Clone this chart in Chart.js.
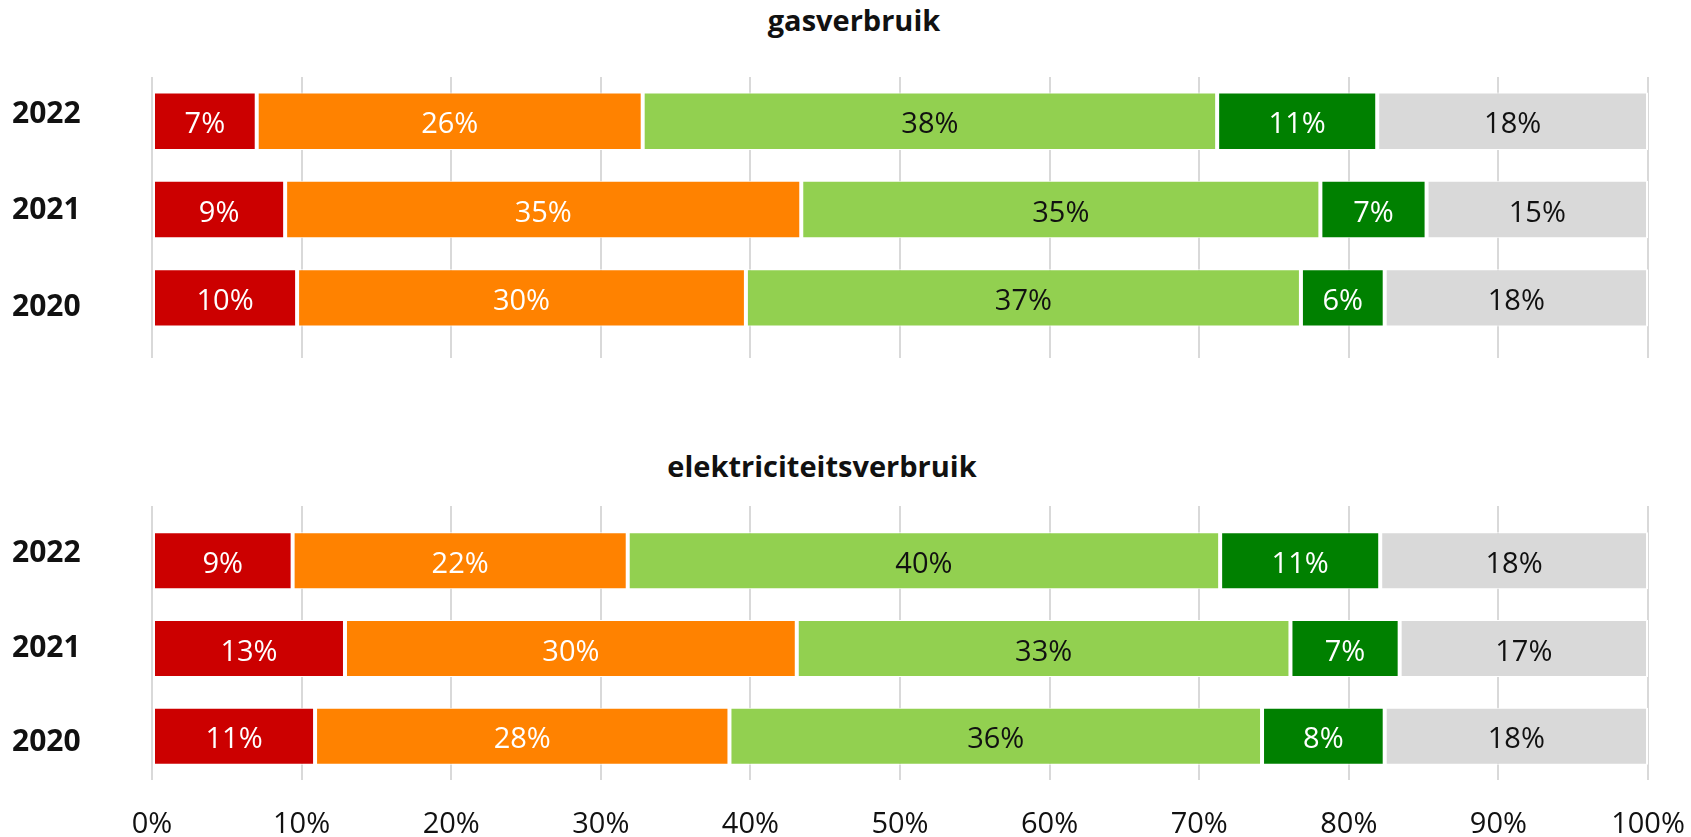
<!DOCTYPE html>
<html>
<head>
<meta charset="utf-8">
<script src="https://cdn.jsdelivr.net/npm/chart.js@4.4.0/dist/chart.umd.min.js"></script>
<style>
  html, body { margin: 0; padding: 0; background: #fff; }
  #wrap { position: relative; width: 1691px; height: 837px; overflow: hidden; }
  .box { position: absolute; left: 0; width: 1691px; }
  .titel {
    position: absolute;
    transform: translateX(-50%);
    font: bold 29px "Open Sans", sans-serif;
    line-height: 29px;
    color: #111;
    white-space: nowrap;
  }
</style>
</head>
<body>
<div id="wrap">
  <div class="titel" style="left:854px; top:5px;">gasverbruik</div>
  <div class="box" style="top:0; height:360px;"><canvas id="gas"></canvas></div>
  <div class="titel" style="left:822px; top:451px;">elektriciteitsverbruik</div>
  <div class="box" style="top:400px; height:437px;"><canvas id="elek"></canvas></div>
</div>
<script>
const jaren = ['2022', '2021', '2020'];

// gasverbruik, aandeel per klasse (%)
const gasRood = [7.0, 8.9, 9.7];
const gasOranje = [25.8, 34.5, 30.0];
const gasLichtgroen = [38.4, 34.7, 37.1];
const gasDonkergroen = [10.7, 7.1, 5.6];
const gasGrijs = [18.1, 14.8, 17.6];

// elektriciteitsverbruik, aandeel per klasse (%)
const elekRood = [9.4, 12.9, 10.9];
const elekOranje = [22.4, 30.2, 27.7];
const elekLichtgroen = [39.6, 33.0, 35.6];
const elekDonkergroen = [10.7, 7.3, 8.2];
const elekGrijs = [17.9, 16.6, 17.6];

const reeksen = ['rood', 'oranje', 'lichtgroen', 'donkergroen', 'grijs'];
const kleuren = ['#cc0000', '#ff8200', '#92d050', '#008000', '#d9d9d9'];
const tekstKleuren = ['#ffffff', '#ffffff', '#111111', '#ffffff', '#111111'];

const FONT = '"Open Sans", sans-serif';
const GRID = '#d9d9d9';

// percentages midden in elk segment
const segmentLabels = {
    id: 'segmentLabels',
    afterDatasetsDraw(chart) {
        const ctx = chart.ctx;
        ctx.save();
        ctx.font = '29px ' + FONT;
        ctx.textAlign = 'center';
        ctx.textBaseline = 'middle';
        chart.data.datasets.forEach((ds, i) => {
            chart.getDatasetMeta(i).data.forEach((bar, j) => {
                const p = bar.getCenterPoint();
                ctx.fillStyle = tekstKleuren[i];
                ctx.fillText(Math.round(ds.data[j]) + '%', p.x, p.y + 4);
            });
        });
        ctx.restore();
    }
};

function maakDatasets(series) {
    return series.map((data, i) => ({
        label: reeksen[i],
        data: data,
        backgroundColor: kleuren[i],
        borderColor: '#ffffff',
        borderWidth: { top: 1, bottom: 1, left: 2, right: 2 },
        borderSkipped: false,
        categoryPercentage: 1,
        barPercentage: 0.65
    }));
}

// jaartallen staan iets verder uit elkaar dan de balken,
// daarom een aparte lineaire as voor de labels (2 = bovenste jaar)
function jaarAs(min, max) {
    return {
        type: 'linear',
        axis: 'y',
        position: 'left',
        offset: false,
        bounds: 'data',
        min: min,
        max: max,
        grid: { display: false, offset: false },
        border: { display: false },
        ticks: {
            color: '#111',
            font: { family: FONT, size: 30, weight: 'bold' },
            crossAlign: 'far',
            padding: 0,
            callback: v => jaren[jaren.length - 1 - v]
        },
        afterBuildTicks: s => {
            s.ticks = jaren.map((j, i) => ({ value: i }));
            s.min = min;
            s.max = max;
        },
        afterFit: s => { s.width = 140; }
    };
}

// vaste hoogte, geen extra ruimte voor overhangende labels
function vastAs(h) {
    return s => {
        s.height = h;
        s.paddingLeft = 0;
        s.paddingRight = 0;
    };
}

function renderGas() {
    const ctx = document.getElementById('gas');
    ctx.chart = new Chart(ctx, {
        type: 'bar',
        data: {
            labels: jaren,
            datasets: maakDatasets([gasRood, gasOranje, gasLichtgroen, gasDonkergroen, gasGrijs])
        },
        options: {
            indexAxis: 'y',
            responsive: true,
            maintainAspectRatio: false,
            animation: false,
            layout: { padding: { top: 77, left: 12, right: 43, bottom: 0 } },
            plugins: { legend: { display: false }, tooltip: { enabled: false } },
            scales: {
                x: {
                    type: 'linear',
                    stacked: true,
                    min: 0,
                    max: 100,
                    ticks: { stepSize: 10, display: false },
                    grid: { color: GRID, lineWidth: 2, tickLength: 16 },
                    border: { display: false },
                    afterFit: vastAs(16)
                },
                y: { stacked: true, display: false },
                jaar: jaarAs(-0.353, 2.383)
            }
        },
        plugins: [segmentLabels]
    });
}

function renderElek() {
    const ctx = document.getElementById('elek');
    ctx.chart = new Chart(ctx, {
        type: 'bar',
        data: {
            labels: jaren,
            datasets: maakDatasets([elekRood, elekOranje, elekLichtgroen, elekDonkergroen, elekGrijs])
        },
        options: {
            indexAxis: 'y',
            responsive: true,
            maintainAspectRatio: false,
            animation: false,
            layout: { padding: { top: 106, left: 12, right: 43, bottom: 0 } },
            plugins: { legend: { display: false }, tooltip: { enabled: false } },
            scales: {
                x: {
                    type: 'linear',
                    stacked: true,
                    min: 0,
                    max: 100,
                    ticks: {
                        stepSize: 10,
                        color: '#111',
                        font: { family: FONT, size: 29 },
                        padding: 27,
                        maxRotation: 0,
                        callback: v => v + '%'
                    },
                    grid: { color: GRID, lineWidth: 2, drawTicks: false },
                    border: { display: false },
                    afterFit: vastAs(57)
                },
                x2: {
                    type: 'linear',
                    axis: 'x',
                    position: 'top',
                    min: 0,
                    max: 100,
                    ticks: { stepSize: 10, display: false },
                    grid: { color: GRID, lineWidth: 2, tickLength: 11, drawOnChartArea: false },
                    border: { display: false },
                    afterFit: vastAs(11)
                },
                y: { stacked: true, display: false },
                jaar: jaarAs(-0.394, 2.389)
            }
        },
        plugins: [segmentLabels]
    });
}

renderGas();
renderElek();
</script>
</body>
</html>
